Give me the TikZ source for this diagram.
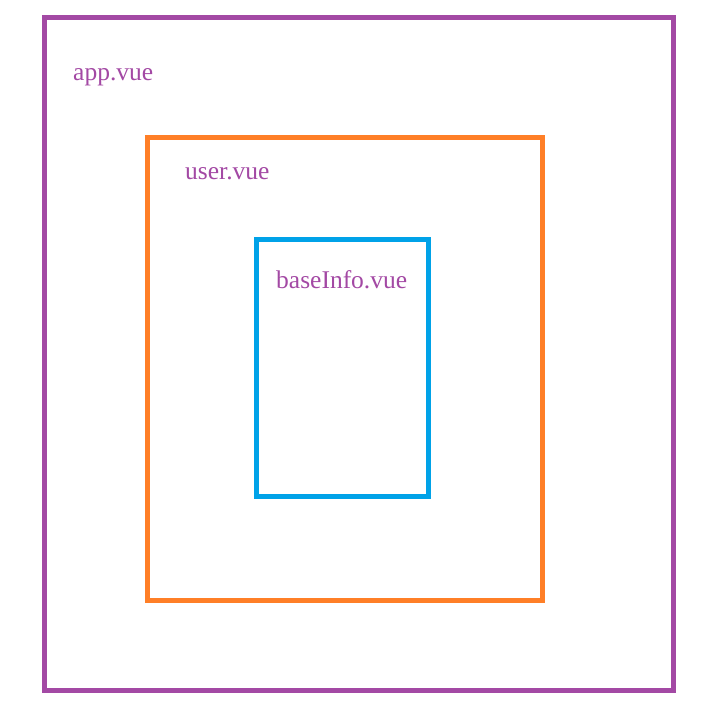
\documentclass[tikz,border=0pt]{standalone}
\usepackage{fontspec}
\setmainfont{Liberation Serif}
\definecolor{vpurple}{HTML}{A349A4}
\definecolor{vorange}{HTML}{FF7F27}
\definecolor{vblue}{HTML}{00A2E8}
\begin{document}
\begin{tikzpicture}[x=1pt,y=-1pt,
  frame/.style={line width=5pt},
  lbl/.style={anchor=base west,inner sep=0pt,text=vpurple,font=\fontsize{25.5}{30}\selectfont}]
\useasboundingbox (0,0) rectangle (707,703);
\draw[frame,vpurple] (44,18) rectangle (673,690);
\draw[frame,vorange] (147,138) rectangle (542,600);
\draw[frame,vblue] (256,240) rectangle (428,496);
\node[lbl] (app) at (73,81) {app.vue};
\node[lbl] (user) at (185,180) {user.vue};
\node[lbl] (base) at (276,289) {baseInfo.vue};
\end{tikzpicture}
\end{document}
